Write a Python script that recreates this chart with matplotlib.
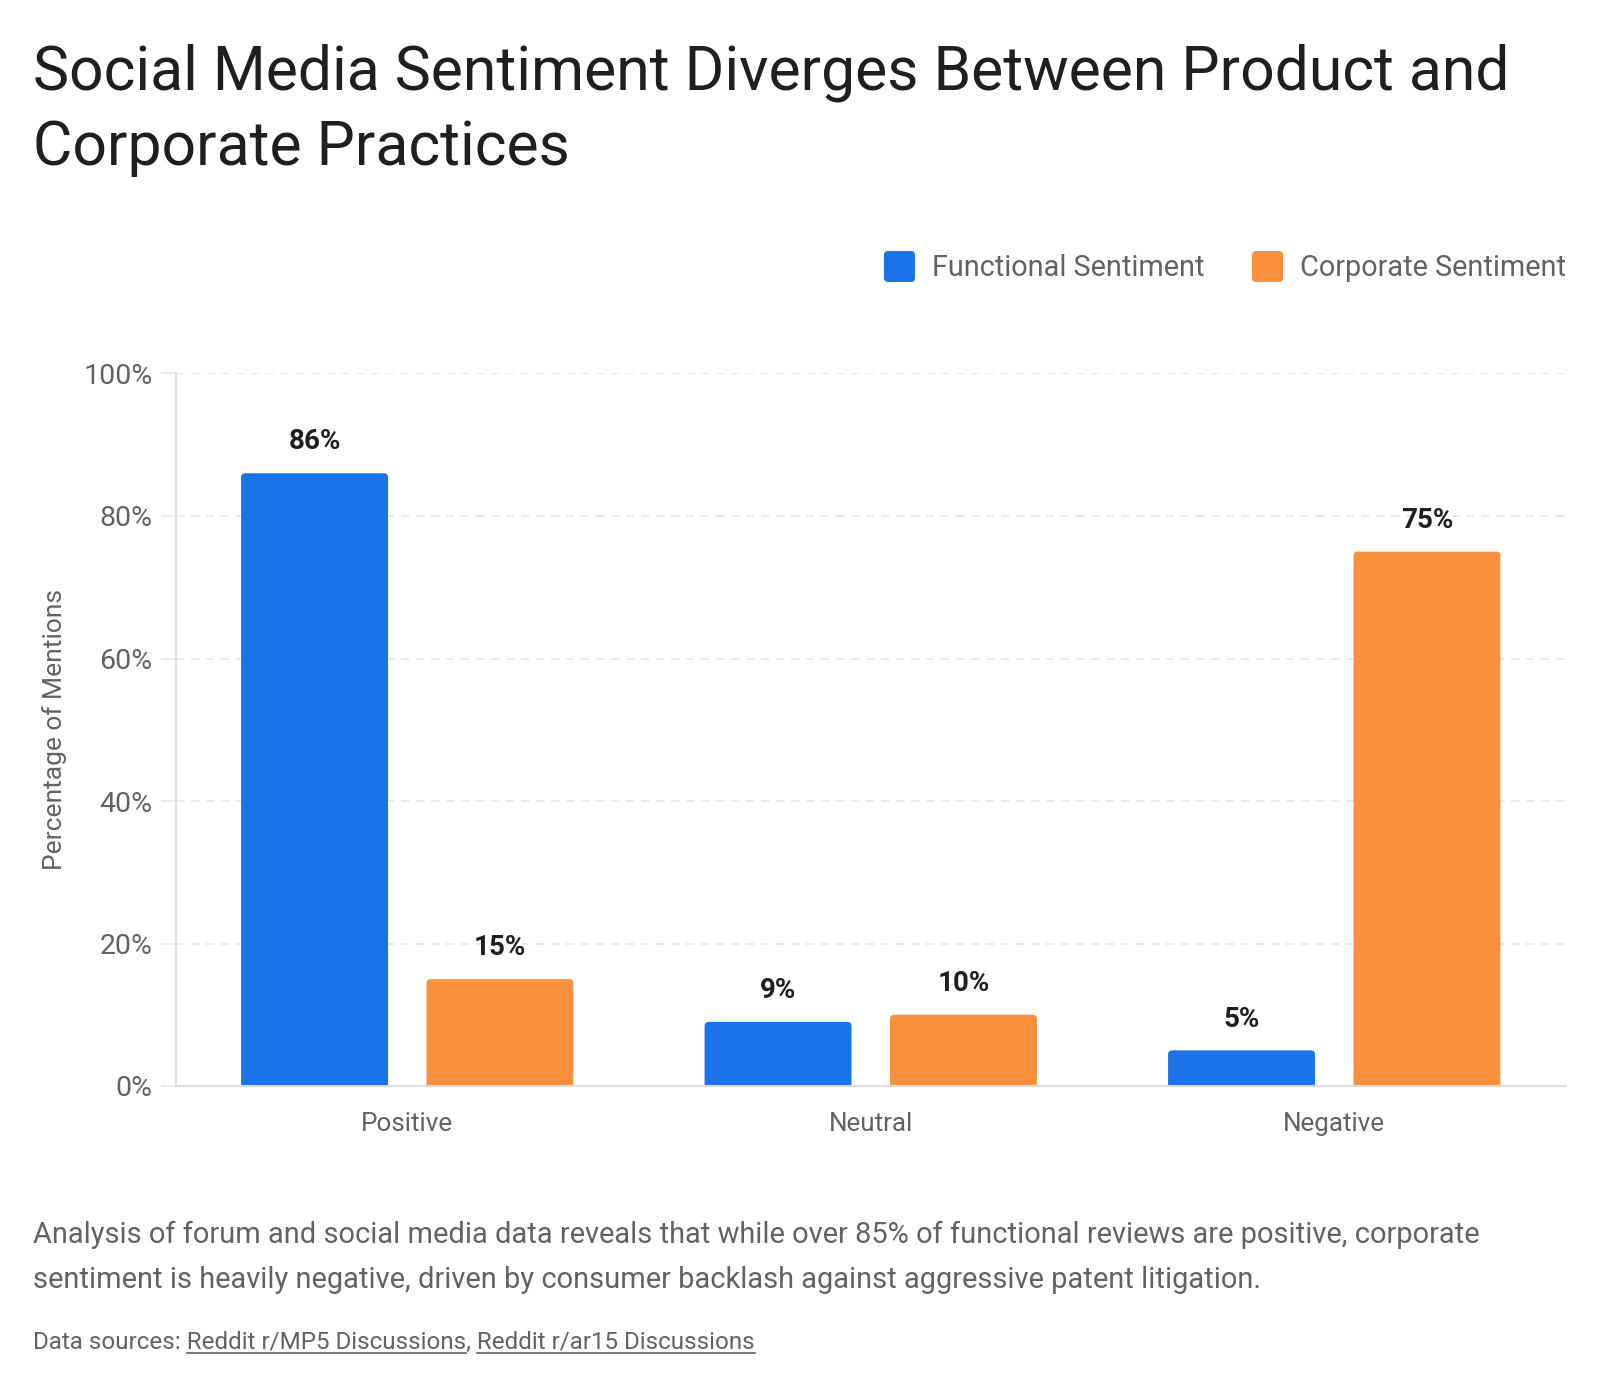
import matplotlib.pyplot as plt
from matplotlib.patches import FancyBboxPatch
from matplotlib.lines import Line2D

# data
categories = ["Positive", "Neutral", "Negative"]
functional = [86, 9, 5]
corporate = [15, 10, 75]
series_names = ["Functional Sentiment", "Corporate Sentiment"]
y_ticks = [0, 20, 40, 60, 80, 100]
y_tick_labels = ["0%", "20%", "40%", "60%", "80%", "100%"]

BLUE = "#1a73e8"
ORANGE = "#fa903e"
GRAY = "#5f6368"
DARK = "#1f1f1f"

plt.rcParams['font.family'] = ['Roboto', 'DejaVu Sans']

W, H = 1600, 1390
fig = plt.figure(figsize=(16, 13.9), dpi=100)
ax = fig.add_axes([175.5 / W, 1 - 1086 / H, (1566 - 175.5) / W, (1086 - 373.5) / H])

bar_w = 0.317
off = 0.2


def rounded_bars(xs, heights, color):
    bars = ax.bar(xs, heights, width=bar_w, color=color, zorder=3)
    for b in bars:
        h = b.get_height()
        # rounded top corners; bottom corners sit below 0 and get clipped
        ax.add_patch(FancyBboxPatch((b.get_x(), -2), b.get_width(), h + 2,
                                    boxstyle="round,pad=0,rounding_size=0.009",
                                    mutation_aspect=65, fc=color, ec='none', zorder=3))
        b.set_visible(False)
    for xx, v in zip(xs, heights):
        ax.annotate(f"{v}%", (xx, v), xytext=(0, 22.5), textcoords='offset points',
                    ha='center', va='center', fontsize=20, fontweight='bold', color=DARK)


xs = list(range(len(categories)))
rounded_bars([i - off for i in xs], functional, BLUE)
rounded_bars([i + off for i in xs], corporate, ORANGE)

ax.set_xlim(-0.5, 2.5)
ax.set_ylim(0, 100)
ax.set_xticks(xs)
ax.set_xticklabels(categories)
ax.set_yticks(y_ticks)
ax.set_yticklabels(y_tick_labels)
ax.yaxis.grid(True, color='#e8e8e8', linestyle=(0, (5, 4)), linewidth=1.2)
ax.set_axisbelow(True)
for s in ['top', 'right']:
    ax.spines[s].set_visible(False)
ax.spines['left'].set_color('#e0e0e0')
ax.spines['left'].set_linewidth(1.5)
ax.spines['bottom'].set_color('#dadce0')
ax.spines['bottom'].set_linewidth(1.5)
ax.spines['bottom'].set_zorder(4)
ax.tick_params(axis='y', length=11, color='#e8e8e8', width=1.2, pad=5.5,
               labelsize=20.5, labelcolor=GRAY)
ax.tick_params(axis='x', length=0, pad=19, labelsize=18.7, labelcolor=GRAY)

fig.text(55 / W, 1 - 730 / H, "Percentage of Mentions", rotation=90,
         ha='center', va='center', fontsize=19, color=GRAY)

# legend
for sx, tx, name, col in [(884, 932, series_names[0], BLUE), (1252, 1300, series_names[1], ORANGE)]:
    fig.add_artist(FancyBboxPatch((sx / W, 1 - 282 / H), 31 / W, 31 / H,
                                  boxstyle="round,pad=0,rounding_size=0.0025",
                                  mutation_aspect=W / H, transform=fig.transFigure,
                                  fc=col, ec='none'))
    fig.text(tx / W, 1 - 268 / H, name, va='center', ha='left', fontsize=20.8, color=GRAY)

# title
fig.text(33 / W, 1 - 90 / H, "Social Media Sentiment Diverges Between Product and",
         fontsize=43.7, color=DARK, va='baseline')
fig.text(33 / W, 1 - 165 / H, "Corporate Practices",
         fontsize=43.7, color=DARK, va='baseline')

# footer
fig.text(33 / W, 1 - 1243 / H,
         "Analysis of forum and social media data reveals that while over 85% of functional reviews are positive, corporate",
         fontsize=20.9, color=GRAY, va='baseline')
fig.text(33 / W, 1 - 1288 / H,
         "sentiment is heavily negative, driven by consumer backlash against aggressive patent litigation.",
         fontsize=20.9, color=GRAY, va='baseline')

src_size = 17.4
src_prefix = "Data sources:"
links = ["Reddit r/MP5 Discussions", "Reddit r/ar15 Discussions"]
src_line = src_prefix + " " + links[0] + ", " + links[1]
src_y = 1 - 1349 / H
fig.text(33 / W, src_y, src_line, fontsize=src_size, color=GRAY, va='baseline')

fig.canvas.draw()
renderer = fig.canvas.get_renderer()


def text_w(s):
    t = fig.text(0, 0, s, fontsize=src_size)
    wpx = t.get_window_extent(renderer).width
    t.remove()
    return wpx


space = text_w("a a") - text_w("aa")
x0 = 33
start1 = x0 + text_w(src_prefix) + space
end1 = x0 + text_w(src_prefix + " " + links[0])
start2 = x0 + text_w(src_prefix + " " + links[0] + ",") + space
end2 = x0 + text_w(src_line)
uy = src_y - 4 / H
for a, b in [(start1, end1), (start2, end2)]:
    fig.add_artist(Line2D([a / W, b / W], [uy, uy], transform=fig.transFigure,
                          color=GRAY, linewidth=1.2))

fig.savefig("out.png", dpi=100, facecolor='white')
